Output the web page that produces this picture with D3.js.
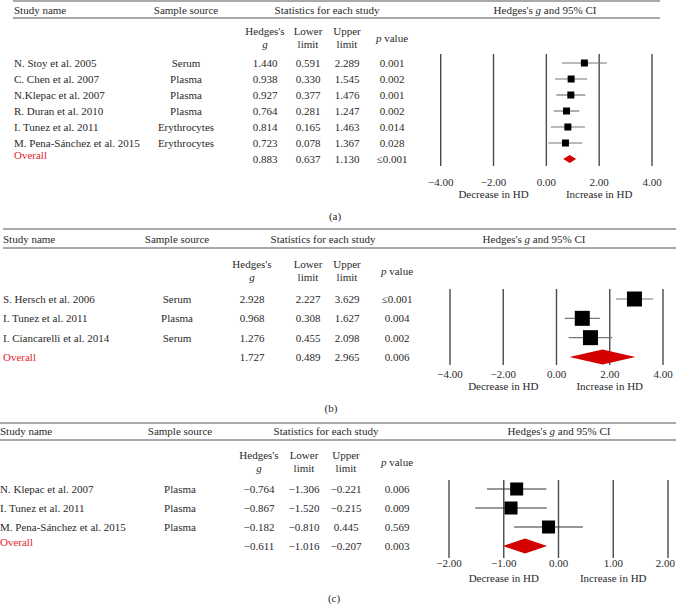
<!DOCTYPE html>
<html><head><meta charset="utf-8">
<script src="https://cdn.jsdelivr.net/npm/d3@7"></script>
<style>body{margin:0;background:#fff}svg{display:block}</style>
</head><body><svg id="chart" width="676" height="605"></svg>
<script>
// ---------- DATA ----------
const studiesA = ["N. Stoy et al. 2005","C. Chen et al. 2007","N.Klepac et al. 2007","R. Duran et al. 2010","I. Tunez et al. 2011","M. Pena-Sánchez et al. 2015"];
const sourcesA = ["Serum","Plasma","Plasma","Plasma","Erythrocytes","Erythrocytes"];
const gA = [1.440,0.938,0.927,0.764,0.814,0.723];
const lowerA = [0.591,0.330,0.377,0.281,0.165,0.078];
const upperA = [2.289,1.545,1.476,1.247,1.463,1.367];
const pA = ["0.001","0.002","0.001","0.002","0.014","0.028"];
const overallA = {g:0.883, lower:0.637, upper:1.130, p:"≤0.001"};
const ticksA = [-4,-2,0,2,4];

const studiesB = ["S. Hersch et al. 2006","I. Tunez et al. 2011","I. Ciancarelli et al. 2014"];
const sourcesB = ["Serum","Plasma","Serum"];
const gB = [2.928,0.968,1.276];
const lowerB = [2.227,0.308,0.455];
const upperB = [3.629,1.627,2.098];
const pB = ["≤0.001","0.004","0.002"];
const overallB = {g:1.727, lower:0.489, upper:2.965, p:"0.006"};
const ticksB = [-4,-2,0,2,4];

const studiesC = ["N. Klepac et al. 2007","I. Tunez et al. 2011","M. Pena-Sánchez et al. 2015"];
const sourcesC = ["Plasma","Plasma","Plasma"];
const gC = [-0.764,-0.867,-0.182];
const lowerC = [-1.306,-1.520,-0.810];
const upperC = [-0.221,-0.215,0.445];
const pC = ["0.006","0.009","0.569"];
const overallC = {g:-0.611, lower:-1.016, upper:-0.207, p:"0.003"};
const ticksC = [-2,-1,0,1,2];

// ---------- LAYOUT ----------
const panels = [
  {label:"(a)", studies:studiesA, sources:sourcesA, g:gA, lo:lowerA, hi:upperA, p:pA, ov:overallA, ticks:ticksA,
   ruleL:13, ruleR:660, top:1, headY:10, rule2:18, ch1:31, ch2:44, row0:63, rowEnd:159, ovLabelDy:-4,
   nameX:14, srcX:186, statX:327, ciX:545, cols:[265,308,347,392],
   x0:440.7, x1:652, gridTop:54, gridBot:166, tickY:182, dirY:194, labY:216, box:7, diaH:8,
   ciColor:"#777"},
  {label:"(b)", studies:studiesB, sources:sourcesB, g:gB, lo:lowerB, hi:upperB, p:pB, ov:overallB, ticks:ticksB,
   ruleL:3, ruleR:676, top:229, headY:239, rule2:248, ch1:264, ch2:277, row0:299, rowEnd:357, ovLabelDy:0,
   nameX:3, srcX:177, statX:323, ciX:534, cols:[252,308,347,397],
   x0:450, x1:663, gridTop:289, gridBot:365, tickY:374, dirY:386, labY:408, box:15, diaH:15,
   ciColor:"#777"},
  {label:"(c)", studies:studiesC, sources:sourcesC, g:gC, lo:lowerC, hi:upperC, p:pC, ov:overallC, ticks:ticksC,
   ruleL:0, ruleR:676, top:423, headY:431, rule2:440, ch1:455, ch2:468, row0:489, rowEnd:546, ovLabelDy:-4,
   nameX:0, srcX:180, statX:326, ciX:559, cols:[259,304,346,397],
   x0:449, x1:668, gridTop:480, gridBot:558, tickY:563, dirY:578, labY:598, box:13, diaH:15,
   ciColor:"#333"}
];

const W = 676;
const svg = d3.select("#chart");
const FONT = "'Liberation Serif', 'Times New Roman', serif";
const TXT = "#2a2a2a";
const fmt = d3.format(".3f");
const tfmt = d3.format(".2f");

function txt(g, s, x, y, anchor, color) {
  return g.append("text").attr("x", x).attr("y", y).attr("text-anchor", anchor || "start")
    .attr("dominant-baseline", "central").attr("font-family", FONT).attr("font-size", 11)
    .attr("fill", color || TXT).text(s);
}

panels.forEach(P => {
  const g = svg.append("g");
  const n = P.studies.length;
  // rules
  [P.top, P.rule2].forEach(yy => g.append("line").attr("x1", P.ruleL).attr("x2", P.ruleR)
    .attr("y1", yy).attr("y2", yy).attr("stroke", "#8c8c8c").attr("stroke-width", 1.5));
  // headers
  txt(g, "Study name", P.nameX, P.headY);
  txt(g, "Sample source", P.srcX, P.headY, "middle");
  txt(g, "Statistics for each study", P.statX, P.headY, "middle");
  const ci = txt(g, "", P.ciX, P.headY, "middle");
  ci.append("tspan").text("Hedges's ");
  ci.append("tspan").attr("font-style", "italic").text("g");
  ci.append("tspan").text(" and 95% CI");
  // column heads
  txt(g, "Hedges's", P.cols[0], P.ch1, "middle");
  txt(g, "g", P.cols[0], P.ch2, "middle").attr("font-style", "italic");
  txt(g, "Lower", P.cols[1], P.ch1, "middle");
  txt(g, "limit", P.cols[1], P.ch2, "middle");
  txt(g, "Upper", P.cols[2], P.ch1, "middle");
  txt(g, "limit", P.cols[2], P.ch2, "middle");
  const pv = txt(g, "", P.cols[3], (P.ch1 + P.ch2) / 2, "middle");
  pv.append("tspan").attr("font-style", "italic").text("p");
  pv.append("tspan").text(" value");

  const y = d3.scaleLinear().domain([0, n]).range([P.row0, P.rowEnd]);
  const x = d3.scaleLinear().domain([P.ticks[0], P.ticks[P.ticks.length - 1]]).range([P.x0, P.x1]);

  // rows
  P.studies.forEach((s, i) => {
    txt(g, s, P.nameX, y(i));
    txt(g, P.sources[i], P.srcX, y(i), "middle");
    txt(g, fmt(P.g[i]), P.cols[0], y(i), "middle");
    txt(g, fmt(P.lo[i]), P.cols[1], y(i), "middle");
    txt(g, fmt(P.hi[i]), P.cols[2], y(i), "middle");
    txt(g, P.p[i], P.cols[3], y(i), "middle");
  });
  txt(g, "Overall", P.nameX, y(n) + P.ovLabelDy, "start", "#e3262b");
  txt(g, fmt(P.ov.g), P.cols[0], y(n), "middle");
  txt(g, fmt(P.ov.lower), P.cols[1], y(n), "middle");
  txt(g, fmt(P.ov.upper), P.cols[2], y(n), "middle");
  txt(g, P.ov.p, P.cols[3], y(n), "middle");

  // grid lines
  g.selectAll(".grid").data(P.ticks).join("line")
    .attr("x1", d => x(d)).attr("x2", d => x(d))
    .attr("y1", P.gridTop).attr("y2", P.gridBot)
    .attr("stroke", "#4a4a4a").attr("stroke-width", 1.4);
  // tick labels (kept inside the page)
  P.ticks.forEach(t => {
    const el = txt(g, tfmt(t), x(t), P.tickY, "middle");
    const w = el.node().getComputedTextLength();
    if (x(t) + w / 2 > W - 1) el.attr("x", W - 1 - w / 2);
  });
  txt(g, "Decrease in HD", x(P.ticks[1]), P.dirY, "middle");
  txt(g, "Increase in HD", x(P.ticks[3]), P.dirY, "middle");
  txt(g, P.label, P.statX + 8, P.labY, "middle");

  // CI lines & boxes
  P.studies.forEach((s, i) => {
    g.append("line").attr("x1", x(P.lo[i])).attr("x2", x(P.hi[i]))
      .attr("y1", y(i)).attr("y2", y(i)).attr("stroke", P.ciColor).attr("stroke-width", 1.2);
    g.append("rect").attr("x", x(P.g[i]) - P.box / 2).attr("y", y(i) - P.box / 2)
      .attr("width", P.box).attr("height", P.box).attr("fill", "#000");
  });
  // diamond
  const yd = y(n), h = P.diaH / 2;
  g.append("path").attr("d", d3.line()([[x(P.ov.lower), yd], [x(P.ov.g), yd - h], [x(P.ov.upper), yd], [x(P.ov.g), yd + h]]) + "Z")
    .attr("fill", "#d40000");
});
</script>
</body></html>
